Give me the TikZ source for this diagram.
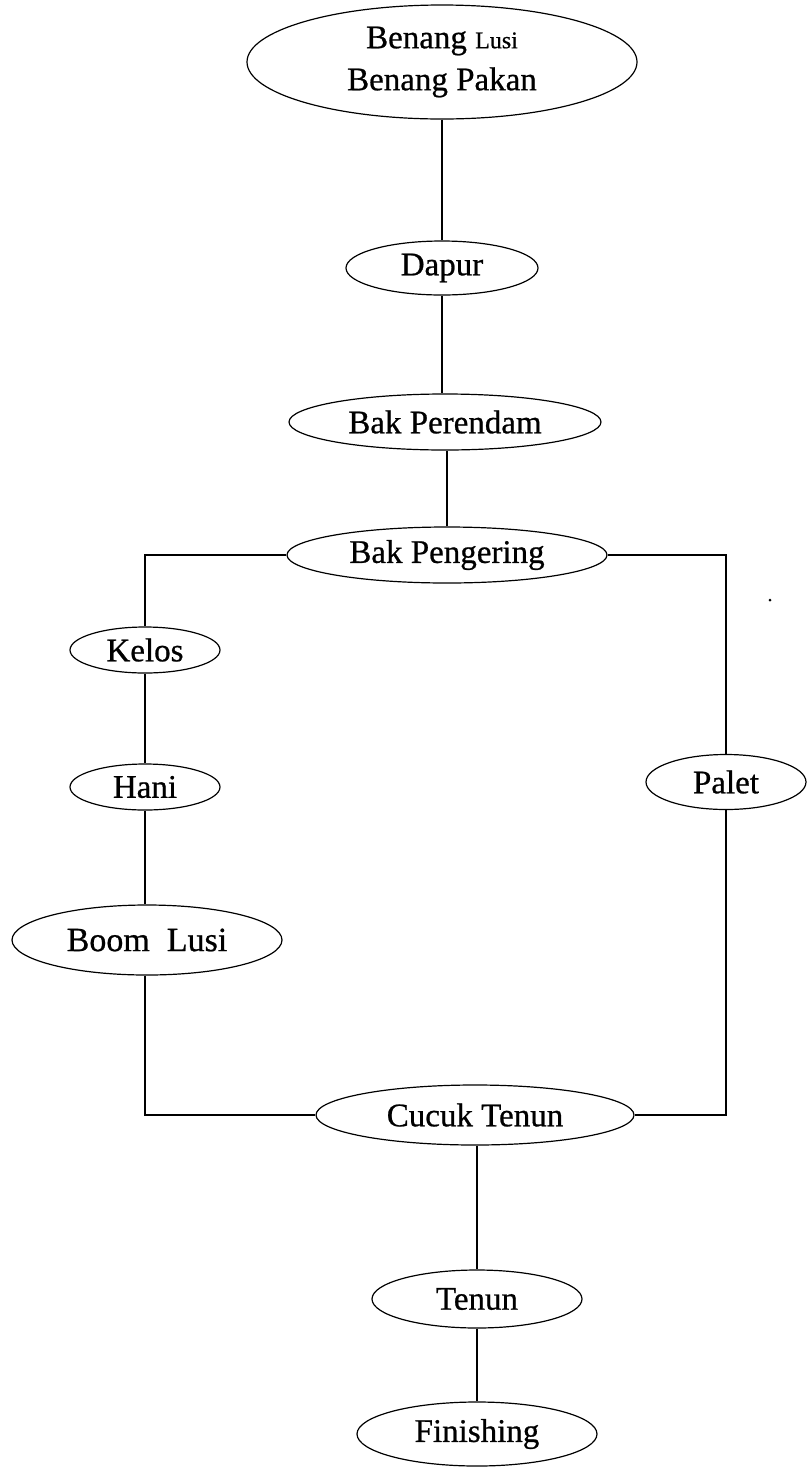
\documentclass[tikz,border=0pt]{standalone}
\usepackage{fontspec}
\setmainfont{Liberation Serif}[FakeBold=0.7]
\usetikzlibrary{shapes.geometric}

\begin{document}
\begin{tikzpicture}[
    x=1pt, y=-1pt,
    every node/.style={font=\fontsize{33}{38}\selectfont},
    proc/.style={ellipse, draw, line width=1.2pt, inner sep=0pt, align=center},
    link/.style={line width=1.2pt}
]
\useasboundingbox (0,0) rectangle (807,1468);
\node[proc, minimum width=390, minimum height=114] (benang) at (442,62) {Benang {\fontsize{24}{28}\selectfont Lusi}\\[4pt]Benang Pakan};
\node[proc, minimum width=192, minimum height=54] (dapur) at (442,268) {Dapur};
\node[proc, minimum width=312, minimum height=56] (rendam) at (445,422) {Bak Perendam};
\node[proc, minimum width=320, minimum height=56] (kering) at (447,555) {Bak Pengering};
\node[proc, minimum width=150, minimum height=46] (kelos) at (145,650) {Kelos};
\node[proc, minimum width=150, minimum height=46] (hani) at (145,787) {Hani};
\node[proc, minimum width=270, minimum height=70, font=\fontsize{34}{39}\selectfont] (boom) at (147,940) {Boom~~Lusi};
\node[proc, minimum width=160, minimum height=55] (palet) at (726,782) {Palet};
\node[proc, minimum width=318, minimum height=60] (cucuk) at (475,1115) {Cucuk Tenun};
\node[proc, minimum width=210, minimum height=58] (tenun) at (477,1299) {Tenun};
\node[proc, minimum width=240, minimum height=64] (finish) at (477,1434) {Finishing};
\fill (770,600) circle (1.5);

\draw[link] (benang) -- (dapur);
\draw[link] (dapur) -- (dapur |- rendam.north);
\draw[link] (kering.north) -- (kering.north |- rendam.south);
\draw[link] (kering.west) -| (kelos.north);
\draw[link] (kering.east) -| (palet.north);
\draw[link] (kelos) -- (hani);
\draw[link] (hani) -- (hani |- boom.north);
\draw[link] (boom.south -| hani) |- (cucuk.west);
\draw[link] (palet.south) |- (cucuk.east);
\draw[link] (tenun.north |- cucuk.south) -- (tenun.north);
\draw[link] (tenun) -- (finish);
\end{tikzpicture}
\end{document}
